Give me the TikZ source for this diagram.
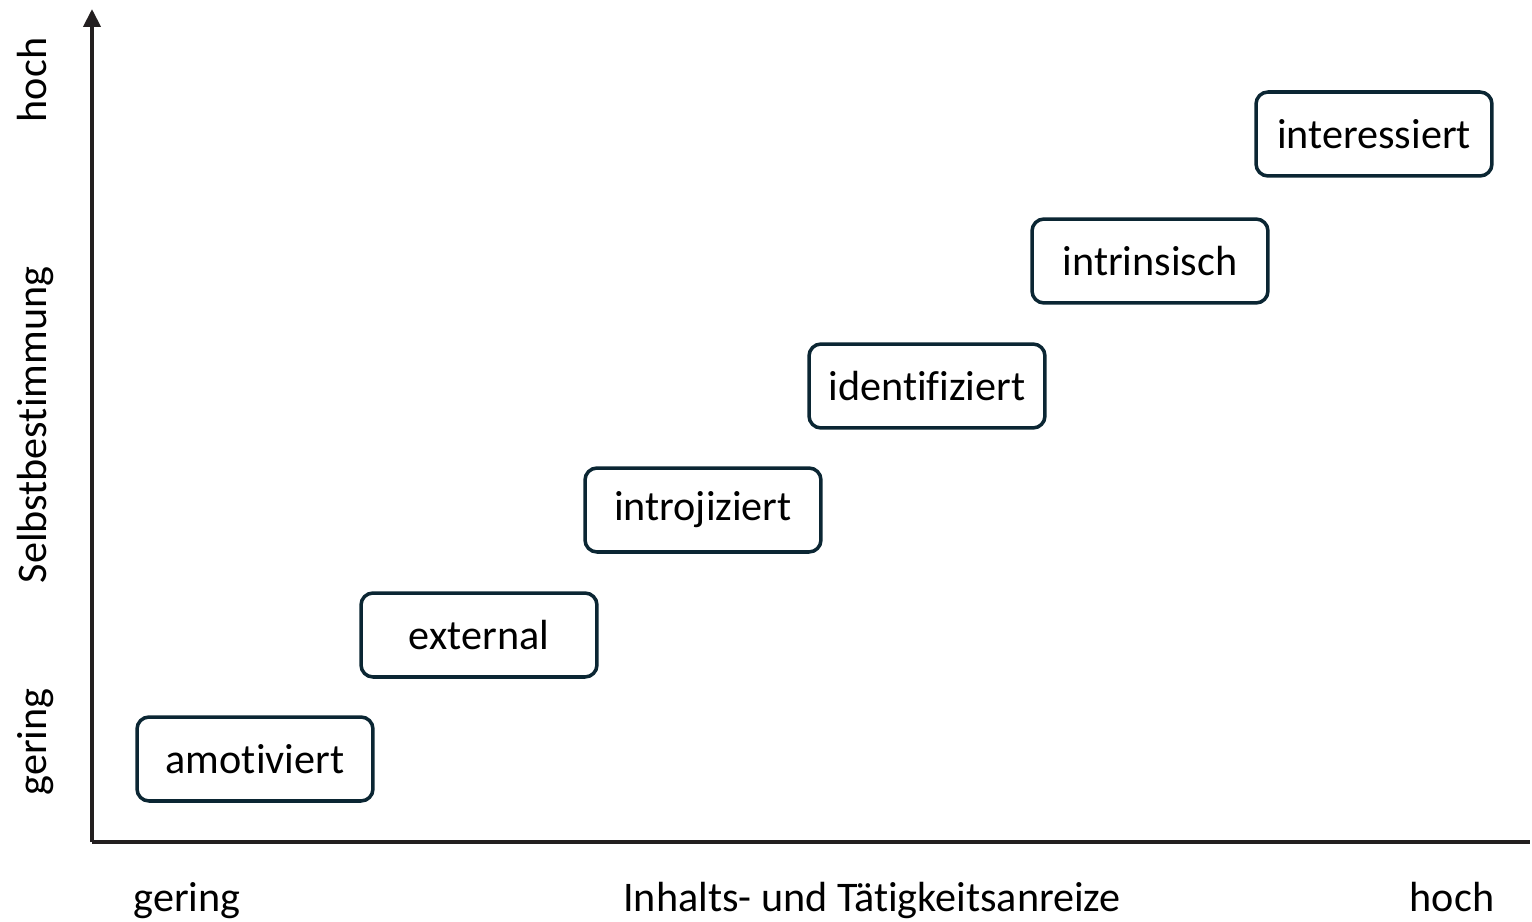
\documentclass[tikz,border=0pt]{standalone}
\usepackage{fontspec}
\setmainfont[Ligatures={NoCommon}]{Carlito}
\usepackage{tikz}
\usetikzlibrary{arrows.meta}
\definecolor{boxline}{HTML}{0B2633}
\definecolor{axisgray}{HTML}{231F20}
\tikzset{
  stufe/.style={draw=boxline, line width=2pt, rounded corners=0.24cm,
    minimum width=4.72cm, minimum height=1.68cm, inner sep=0pt,
    font=\fontsize{24}{28}\selectfont},
  achse/.style={draw=axisgray, line width=2.3pt},
  beschriftung/.style={font=\fontsize{24}{28}\selectfont, inner sep=0pt, anchor=base}
}
\begin{document}
\begin{tikzpicture}[x=0.02cm, y=-0.02cm]
        \useasboundingbox (0,0) rectangle (1532,922);
        %ACHSEN
        \coordinate (O) at (92,842);
        \coordinate (Y) at (92,9);
        \coordinate (X) at (1530,842);
        \draw[achse, -{Triangle[length=0.36cm, width=0.34cm]}] (O) -- (Y);
        \draw[achse] (O) -- (X);
        %STUFEN
        \node[stufe] (amot) at (255,759) {amotiviert};
        \node[stufe] (ext) at (479,635) {external};
        \node[stufe] (intro) at (703,510) {introjiziert};
        \node[stufe] (ident) at (927,386) {identifiziert};
        \node[stufe] (intrin) at (1150,261) {intrinsisch};
        \node[stufe] (inter) at (1374,134) {interessiert};
        %X-BESCHRIFTUNG
        \node[beschriftung] (xgering) at (187,911) {gering};
        \node[beschriftung] (xtitel) at (872,911) {Inhalts- und Tätigkeitsanreize};
        \node[beschriftung] (xhoch) at (1452,911) {hoch};
        %Y-BESCHRIFTUNG
        \node[beschriftung, rotate=90] (yhoch) at (47,80) {hoch};
        \node[beschriftung, rotate=90] (ytitel) at (47,425) {Selbstbestimmung};
        \node[beschriftung, rotate=90] (ygering) at (47,742) {gering};
\end{tikzpicture}
\end{document}
